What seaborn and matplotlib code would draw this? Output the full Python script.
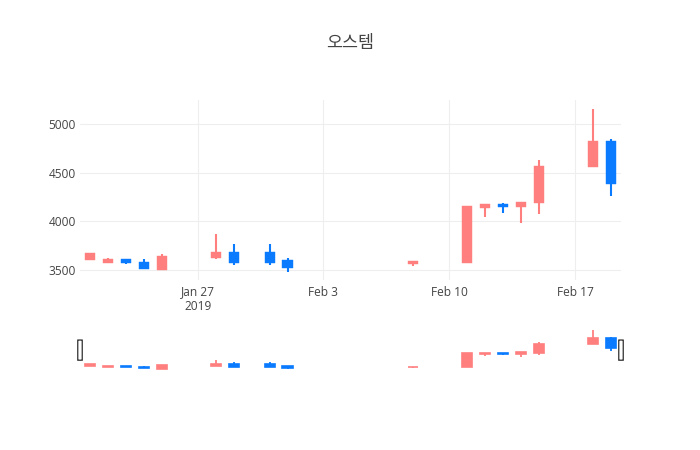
import numpy as np
import pandas as pd
import seaborn as sns
import matplotlib.pyplot as plt
import matplotlib.dates as mdates
from matplotlib.patches import FancyBboxPatch

sns.set_theme(style="white")
plt.rcParams['font.family'] = ['Open Sans', 'Noto Sans CJK KR', 'DejaVu Sans']

# daily prices
dates = ["2019-01-21", "2019-01-22", "2019-01-23", "2019-01-24", "2019-01-25",
         "2019-01-28", "2019-01-29", "2019-01-31", "2019-02-01", "2019-02-08",
         "2019-02-11", "2019-02-12", "2019-02-13", "2019-02-14", "2019-02-15",
         "2019-02-18", "2019-02-19"]
opens = [3600, 3575, 3610, 3580, 3505, 3625, 3690, 3690, 3605, 3565,
         3570, 4140, 4175, 4145, 4185, 4555, 4820]
highs = [3680, 3625, 3610, 3615, 3660, 3865, 3770, 3770, 3625, 3590,
         4155, 4175, 4190, 4200, 4630, 5150, 4850]
lows = [3600, 3575, 3560, 3510, 3505, 3615, 3550, 3550, 3475, 3545,
        3570, 4040, 4090, 3980, 4080, 4555, 4260]
closes = [3680, 3610, 3570, 3510, 3645, 3690, 3570, 3575, 3525, 3590,
          4155, 4175, 4145, 4200, 4570, 4820, 4385]

df = pd.DataFrame({'date': pd.to_datetime(dates), 'open': opens, 'high': highs,
                   'low': lows, 'close': closes})
df['x'] = mdates.date2num(df['date'])
df['up'] = df['close'] >= df['open']

UP = '#FF7F7F'
DOWN = '#0A7BFF'
df['color'] = np.where(df['up'], UP, DOWN)

fig = plt.figure(figsize=(7, 4.5), dpi=100)
ax = fig.add_axes([80/700, 1-280/450, 541/700, 180/450])
axs = fig.add_axes([80/700, 1-371/450, 541/700, 43/450])


def draw_candles(a, wick_lw, edge_lw):
    a.vlines(df['x'], df['low'], df['high'], colors=df['color'], lw=wick_lw, zorder=2)
    body_lo = df[['open', 'close']].min(axis=1)
    body_h = (df['close'] - df['open']).abs()
    a.bar(df['x'], body_h, bottom=body_lo, width=0.56, color=df['color'],
          edgecolor=df['color'], linewidth=edge_lw, zorder=3)


draw_candles(ax, 1.5, 0.3)
draw_candles(axs, 1.3, 1.2)

# autorange with ~5% padding, shared by the slider
span = max(highs) - min(lows)
ylo, yhi = min(lows) - 0.046 * span, max(highs) + 0.057 * span

xmin = df['x'].min() - 0.55
xmax = df['x'].max() + 0.56
for a in (ax, axs):
    a.set_xlim(xmin, xmax)
    a.set_ylim(ylo, yhi)
    for s in a.spines.values():
        s.set_visible(False)

ax.set_yticks([3500, 4000, 4500, 5000])
ax.grid(True, color='#eeeeee', lw=0.75)
ax.set_axisbelow(True)
ticks = mdates.date2num(pd.to_datetime(["2019-01-27", "2019-02-03", "2019-02-10", "2019-02-17"]))
ax.set_xticks(ticks)
ax.set_xticklabels(["Jan 27\n2019", "Feb 3", "Feb 10", "Feb 17"], linespacing=1.1)
ax.tick_params(axis='both', length=0, labelsize=8.6, colors='#444444')
ax.tick_params(axis='x', pad=4)
ax.tick_params(axis='y', pad=3)

axs.set_xticks([])
axs.set_yticks([])
axs.patch.set_alpha(0)

# range slider handles
for hx in (0.0, 1.0):
    h = FancyBboxPatch((hx - 0.0042, 0.25), 0.0084, 0.47, transform=axs.transAxes,
                       boxstyle="round,pad=0,rounding_size=0.003",
                       facecolor='white', edgecolor='#444444', lw=1,
                       clip_on=False, zorder=5)
    axs.add_patch(h)

fig.text(0.5, 1-43/450, "오스템", ha='center', va='center', fontsize=12.5,
         color='#444444', family=['Noto Sans CJK KR', 'DejaVu Sans'])

plt.savefig('out.png', dpi=100)
